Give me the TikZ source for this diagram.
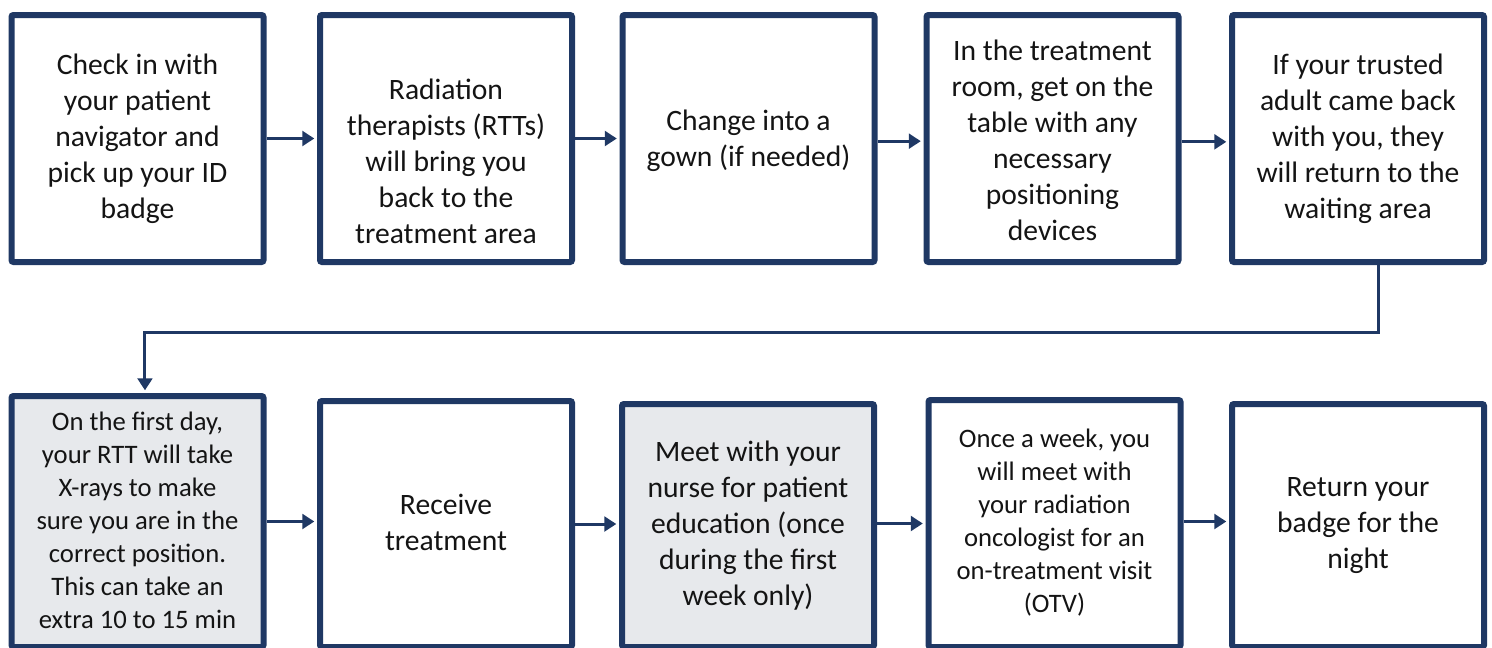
\documentclass[tikz,border=0pt]{standalone}
\usepackage{fontspec}
\setmainfont{Carlito}
\usetikzlibrary{arrows.meta}
\definecolor{navy}{RGB}{31,56,100}
\definecolor{shade}{RGB}{231,233,236}
\definecolor{ink}{RGB}{20,20,20}
\tikzset{
  stepbox/.style={draw=navy, line width=4.5pt, rounded corners=1.5pt,
    minimum width=189pt, inner sep=0pt, fill=white},
  toprow/.style={stepbox, minimum height=185.25pt},
  shaded/.style={fill=shade},
  txt/.style={align=center, text=ink, inner sep=0pt,
    font=\fontsize{22.2pt}{27pt}\selectfont},
  smalltxt/.style={txt, font=\fontsize{20pt}{24.75pt}\selectfont},
  arr/.style={draw=navy, line width=2.25pt,
    -{Triangle[length=9pt,width=11pt]}, shorten >=2pt},
}
\begin{document}
\begin{tikzpicture}[x=0.75pt, y=-0.75pt]
\useasboundingbox (0,0) rectangle (1492,647);
\clip (0,0) rectangle (1492,647);

% top row of steps
\node[toprow] (b1) at (137.5,138.5) {};
\node[toprow] (b2) at (446,138.5) {};
\node[toprow] (b3) at (748.5,138.5) {};
\node[toprow] (b4) at (1052.5,138.5) {};
\node[toprow] (b5) at (1358,138.5) {};

\node[txt] (t1) at (137.5,139) {Check in with\\your patient\\navigator and\\pick up your ID\\badge};
\node[txt] (t2) at (446,161) {Radiation\\therapists (RTTs)\\will bring you\\back to the\\treatment area};
\node[txt] (t3) at (748.5,141) {Change into a\\gown (if needed)};
\node[txt] (t4) at (1052.5,140) {In the treatment\\room, get on the\\table with any\\necessary\\positioning\\devices};
\node[txt] (t5) at (1358,139) {If your trusted\\adult came back\\with you, they\\will return to the\\waiting area};

% bottom row of steps, running off the lower edge
\node[stepbox, shaded, minimum height=188.25pt] (b6) at (137.5,521.5) {};
\node[stepbox, minimum height=184.5pt] (b7) at (446,524) {};
\node[stepbox, shaded, minimum height=182.25pt] (b8) at (748,525.5) {};
\node[stepbox, minimum height=185.25pt] (b9) at (1054.5,523.5) {};
\node[stepbox, minimum height=182.25pt] (b10) at (1358,525.5) {};

\node[smalltxt] (t6) at (137.5,520) {On the first day,\\your RTT will take\\X-rays to make\\sure you are in the\\correct position.\\This can take an\\extra 10 to 15 min};
\node[txt] (t7) at (446,522) {Receive\\treatment};
\node[txt] (t8) at (748,526) {Meet with your\\nurse for patient\\education (once\\during the first\\week only)};
\node[smalltxt] (t9) at (1054.5,523) {Once a week, you\\will meet with\\your radiation\\oncologist for an\\on-treatment visit\\(OTV)};
\node[txt] (t10) at (1358,526) {Return your\\badge for the\\night};

% connectors along the top row
\draw[arr] (b1.east) -- (b2.west);
\draw[arr] (b2.east) -- (b3.west);
\draw[arr] ([yshift=-2pt]b3.east) -- ([yshift=-2pt]b4.west);
\draw[arr] ([yshift=-2.5pt]b4.east) -- ([yshift=-2.5pt]b5.west);

% return path down to the second row
\draw[arr] ([xshift=15pt]b5.south) -- ++(0,67) -| ([xshift=5.6pt]b6.north);

% connectors along the bottom row
\draw[arr] (b6.east) -- (b6.east -| b7.west);
\draw[arr] ([xshift=-3pt]b7.east) -- (b7.east -| b8.west);
\draw[arr] (b8.east |- b9.west) -- (b9.west);
\draw[arr] ([yshift=1.5pt]b9.east) -- ([yshift=1.5pt]b9.east -| b10.west);
\end{tikzpicture}
\end{document}
